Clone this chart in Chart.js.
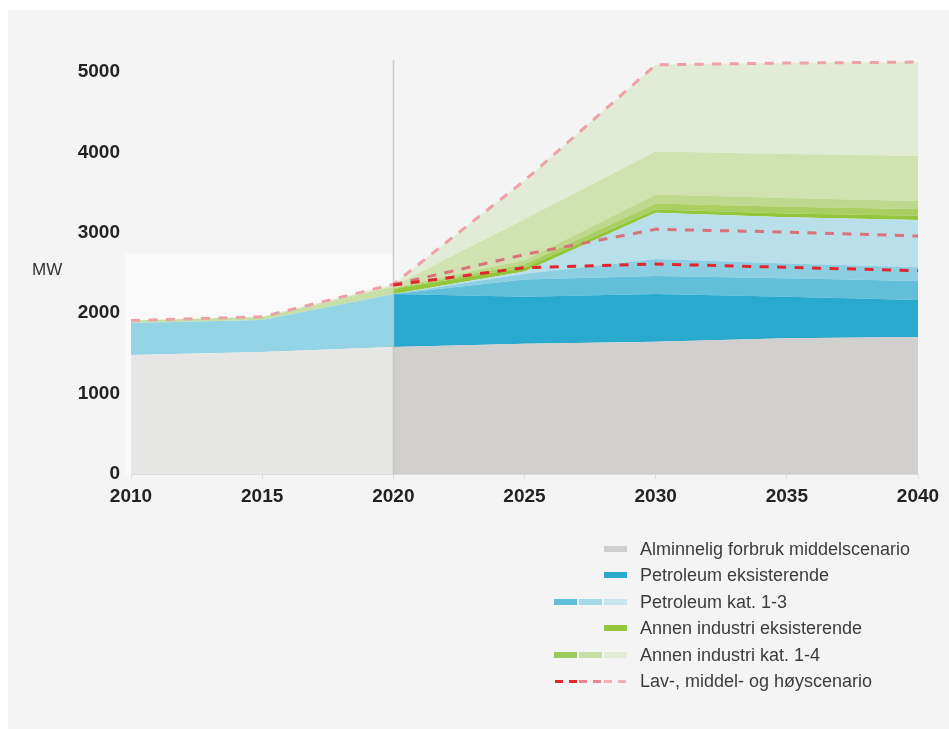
<!DOCTYPE html>
<html><head><meta charset="utf-8">
<script src="https://cdn.jsdelivr.net/npm/chart.js@4.4.0/dist/chart.umd.min.js"></script>
<style>
html,body{margin:0;padding:0;background:#fff;width:949px;height:729px;overflow:hidden;font-family:"Liberation Sans",Arial,Helvetica,sans-serif;}
#panel{position:absolute;left:8px;top:10px;width:941px;height:719px;background:#f4f4f4;}
#c{position:absolute;left:0;top:0;}
#unit{position:absolute;left:32px;top:260px;font-size:17px;line-height:20px;color:#333;}
.row{position:absolute;left:640px;height:22px;line-height:22px;font-size:18px;color:#3c3c3c;white-space:nowrap;}
.sw{position:absolute;}
</style></head>
<body>
<div id="panel"></div>
<canvas id="c" width="949" height="729"></canvas>
<div id="unit">MW</div>
<div id="legend"></div>
<script>
// ---- data ----
const years = ['2010','2015','2020','2025','2030','2035','2040'];
const alminnelig = [1480,1518,1580,1620,1646,1688,1704];
const petroEks   = [398,398,660,585,593,517,460];
const petroKat1  = [0,0,0,215,224,229,236];
const petroKat2  = [0,0,0,70,211,186,171];
const petroKat3  = [0,0,0,30,576,573,589];
const annenEks   = [30,40,60,50,40,49,53];
const annenKat1  = [0,0,10,40,74,83,83];
const annenKat2  = [0,0,10,50,112,108,99];
const annenKat3  = [0,0,20,510,535,547,560];
const annenKat4  = [0,0,20,480,1082,1132,1169];
const hoy    = [1908,1956,2360,3650,5090,5112,5124];
const middel = [null,null,2355,2730,3044,3010,2960];
const lav    = [null,null,2350,2566,2612,2571,2529];
const yTicks = [0,1000,2000,3000,4000,5000];
const yMax = 5150;
const historyEndIndex = 2;      // 2020
const historyBoxTop = 2740;     // MW level of the pale history box

const legendLabels = [
  'Alminnelig forbruk middelscenario',
  'Petroleum eksisterende',
  'Petroleum kat. 1-3',
  'Annen industri eksisterende',
  'Annen industri kat. 1-4',
  'Lav-, middel- og høyscenario'
];

// ---- styling ----
const FONT = '"Liberation Sans", Arial, Helvetica, sans-serif';
const seg = (hist, fut) => ({ backgroundColor: c => (c.p1DataIndex <= historyEndIndex ? hist : fut) });
function area(label, data, hist, fut, fill) {
  return { label, data, fill, order: 1, borderWidth: 0, borderColor: 'rgba(0,0,0,0)',
    backgroundColor: fut, pointRadius: 0, tension: 0, segment: seg(hist, fut), stack: 'areas' };
}
function dash(label, data, color, stack) {
  return { label, data, fill: false, order: 0, borderWidth: 3, borderColor: color,
    borderDash: [9, 8.5], borderCapStyle: 'butt', pointRadius: 0, tension: 0, stack, spanGaps: false };
}
const datasets = [
  area('Alminnelig forbruk', alminnelig, '#e6e6e4', '#d1d0ce', 'origin'),
  area('Petroleum eksisterende', petroEks, '#93d4e5', '#29a9ce', '-1'),
  area('Petroleum kat. 1', petroKat1, '#62bfda', '#62bfda', '-1'),
  area('Petroleum kat. 2', petroKat2, '#8dcfe2', '#8dcfe2', '-1'),
  area('Petroleum kat. 3', petroKat3, '#b8dfea', '#b8dfea', '-1'),
  area('Annen industri eksisterende', annenEks, '#c7dfa6', '#93c63b', '-1'),
  area('Annen industri kat. 1', annenKat1, '#a9cf63', '#a9cf63', '-1'),
  area('Annen industri kat. 2', annenKat2, '#bcd98d', '#bcd98d', '-1'),
  area('Annen industri kat. 3', annenKat3, '#cfe2b0', '#cfe2b0', '-1'),
  area('Annen industri kat. 4', annenKat4, '#e2ebd5', '#e2ebd5', '-1'),
  dash('Lav', lav, '#e2262e', 'lav'),
  dash('Middel', middel, '#d9737b', 'middel'),
  dash('Høy', hoy, '#eda2a7', 'hoy')
];
const hoyIndex = datasets.length - 1;

const decor = {
  id: 'decor',
  beforeDatasetsDraw(chart) {
    const { ctx, scales: { x, y } } = chart;
    const l = x.getPixelForValue(0) - 6, r = x.getPixelForValue(historyEndIndex);
    const t = y.getPixelForValue(historyBoxTop), b = y.getPixelForValue(0);
    ctx.save(); ctx.fillStyle = '#f9f9f9'; ctx.fillRect(l, t, r - l, b - t); ctx.restore();
  },
  beforeDatasetDraw(chart, args) {
    if (args.index !== hoyIndex) return;
    const { ctx, chartArea, scales: { x, y } } = chart;
    const px = Math.round(x.getPixelForValue(historyEndIndex)) + 0.5;
    ctx.save();
    ctx.strokeStyle = 'rgba(190,190,190,0.75)'; ctx.lineWidth = 1.5;
    ctx.beginPath(); ctx.moveTo(px, chartArea.top); ctx.lineTo(px, y.getPixelForValue(0)); ctx.stroke();
    ctx.restore();
  }
};

new Chart(document.getElementById('c'), {
  type: 'line',
  data: { labels: years, datasets },
  plugins: [decor],
  options: {
    responsive: false, animation: false, devicePixelRatio: 1,
    layout: { padding: { left: 0, top: 60, right: 31, bottom: 210 } },
    plugins: { legend: { display: false }, tooltip: { enabled: false } },
    scales: {
      x: {
        type: 'category', offset: false,
        grid: { display: true, drawOnChartArea: false, drawTicks: true, tickLength: 5, color: '#dcdcdc' },
        border: { display: true, color: '#dcdcdc', width: 1 },
        ticks: { font: { family: FONT, size: 19, weight: 'bold' }, color: '#222', padding: 6, maxRotation: 0, autoSkip: false },
        afterFit: s => { s.height = 45; }
      },
      y: {
        stacked: true, min: 0, max: yMax,
        grid: { display: false, drawTicks: false },
        border: { display: false },
        ticks: { font: { family: FONT, size: 19, weight: 'bold' }, color: '#222', padding: 11,
          callback: v => String(v) },
        afterBuildTicks: s => { s.ticks = yTicks.map(v => ({ value: v })); },
        afterFit: s => { s.width = 131; }
      }
    }
  }
});

// ---- HTML legend ----
const legendRows = [
  { text: legendLabels[0], kind: 'single', colors: ['#d0cfcd'] },
  { text: legendLabels[1], kind: 'single', colors: ['#29a9ce'] },
  { text: legendLabels[2], kind: 'triple', colors: ['#5fbfda', '#a6d9e8', '#c9e6ee'] },
  { text: legendLabels[3], kind: 'single', colors: ['#93c63e'] },
  { text: legendLabels[4], kind: 'triple', colors: ['#9cca5b', '#c8dfa8', '#e3ecd6'] },
  { text: legendLabels[5], kind: 'dash', colors: ['#e2262c', '#e2262c', '#e8858c', '#e8858c', '#f1b0b4', '#f1b0b4'] }
];
const rowCenters = [549, 575, 602, 628, 655, 681];
const legend = document.getElementById('legend');
legendRows.forEach((r, i) => {
  const cy = rowCenters[i];
  const t = document.createElement('div');
  t.className = 'row'; t.textContent = r.text; t.style.top = (cy - 11) + 'px';
  legend.appendChild(t);
  let boxes;
  if (r.kind === 'single') boxes = [[604, 23, 6]];
  else if (r.kind === 'triple') boxes = [[554, 23, 6], [579, 23, 6], [604, 23, 6]];
  else boxes = [[555, 8, 3], [569, 8, 3], [579, 8, 3], [593, 8, 3], [604, 8, 3], [618, 8, 3]];
  boxes.forEach((b, j) => {
    const d = document.createElement('div');
    d.className = 'sw';
    d.style.left = b[0] + 'px'; d.style.width = b[1] + 'px';
    d.style.height = b[2] + 'px'; d.style.top = (cy - b[2] / 2) + 'px';
    d.style.background = r.colors[j];
    legend.appendChild(d);
  });
});
</script>
</body></html>
